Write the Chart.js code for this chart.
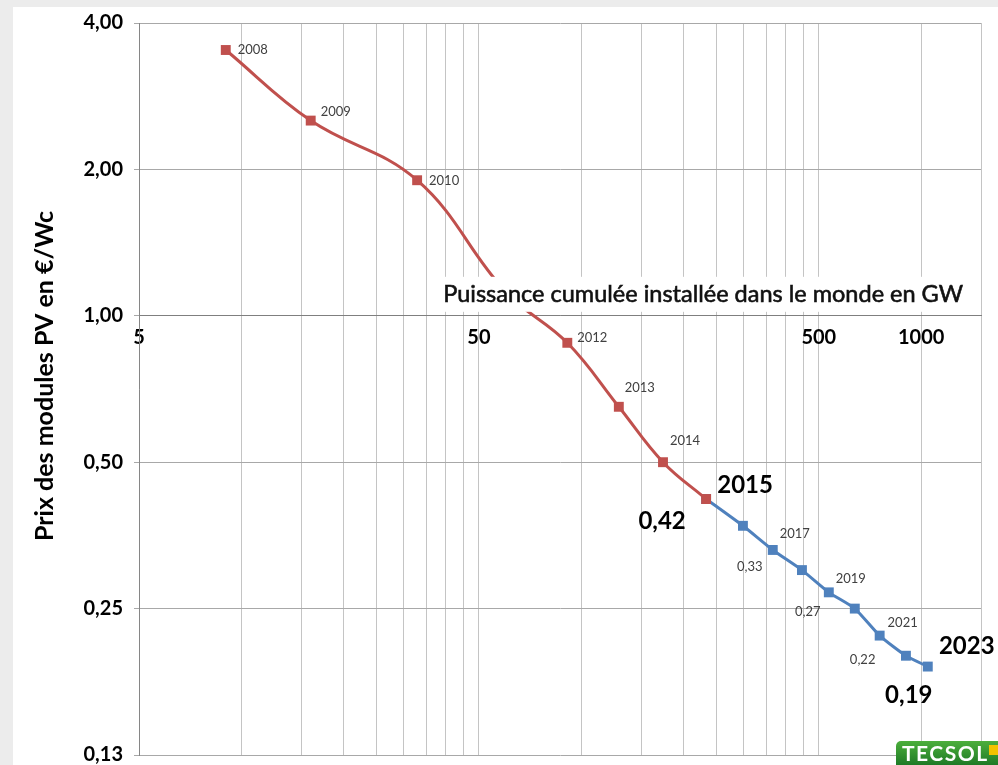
<!DOCTYPE html>
<html>
<head>
<meta charset="utf-8">
<script src="https://cdn.jsdelivr.net/npm/chart.js@4.4.1/dist/chart.umd.min.js"></script>
<style>
  html, body { margin: 0; padding: 0; background: #ececec; }
  canvas { display: block; }
</style>
</head>
<body>
<canvas id="chart" width="998" height="765"></canvas>
<script>
// values
const years = [2008, 2009, 2010, 2011, 2012, 2013, 2014, 2015, 2016, 2017, 2018, 2019, 2020, 2021, 2022, 2023];
const capacityGW = [9.0, 16.0, 32.9, 60, 91, 129, 174, 233, 299, 366, 446, 535, 638, 755, 902, 1046];
const priceEurWc = [3.52, 2.52, 1.90, 1.12, 0.88, 0.65, 0.50, 0.42, 0.37, 0.33, 0.30, 0.27, 0.25, 0.22, 0.20, 0.19];
const splitYear = 2015;

const xTicks = [5, 10, 15, 20, 25, 30, 35, 40, 45, 50, 100, 150, 200, 250, 300, 350, 400, 450, 500, 1000, 1500];
const xTickLabels = [5, 50, 500, 1000];
const yTicks = [0.125, 0.25, 0.5, 1, 2, 4];

const xTitle = 'Puissance cumulée installée dans le monde en GW';
const yTitle = 'Prix des modules PV en €/Wc';

// which points carry a label, and what it shows
const yearLabels = [2008, 2009, 2010, 2012, 2013, 2014, 2015, 2017, 2019, 2021, 2023];
const priceLabels = [2015, 2017, 2019, 2021, 2023];
const bigLabels = [2015, 2023];

const fmt = v => v.toFixed(2).replace('.', ',');
const pts = (from, to) => years
  .map((y, i) => ({ x: capacityGW[i], y: priceEurWc[i], year: y }))
  .filter(p => p.year >= from && p.year <= to);

const RED = '#c0504d', BLUE = '#4f81bd';
const FONT = 'Lato, "Open Sans", sans-serif';

// label offsets from the marker centre (px)
const yearOffset = {
  2008: [27, 0], 2009: [25, -9], 2010: [27, 1], 2012: [25, -5], 2013: [21, -19],
  2014: [22, -21], 2015: [39, -14], 2017: [22, -16], 2019: [22, -14], 2021: [23, -13], 2023: [39, -20]
};
const priceOffset = { 2015: [-44, 22], 2017: [-23, 17], 2019: [-21, 19], 2021: [-17, 24], 2023: [-19, 29] };

const decor = {
  id: 'decor',
  beforeDraw(chart) {
    const c = chart.ctx;
    c.save();
    c.fillStyle = '#ececec';
    c.fillRect(0, 0, chart.width, chart.height);
    c.fillStyle = '#ffffff';
    c.fillRect(13, 7, chart.width - 13, chart.height - 7);
    c.restore();
  },
  afterDatasetsDraw(chart) {
    const c = chart.ctx, xs = chart.scales.x, ys = chart.scales.y;
    c.save();
    // x axis title sitting on a white box above the 1,00 line
    c.font = '23.5px ' + FONT;
    const w = c.measureText(xTitle).width;
    const right = xs.getPixelForValue(1500) - 18;
    const base = ys.getPixelForValue(1);
    c.fillStyle = '#ffffff';
    c.fillRect(right - w - 10, base - 39, w + 18, 35);
    c.fillStyle = '#111111';
    c.strokeStyle = '#111111';
    c.lineWidth = 0.6;
    c.textAlign = 'right';
    c.textBaseline = 'middle';
    c.fillText(xTitle, right, base - 21);
    c.strokeText(xTitle, right, base - 21);

    // point labels
    const all = chart.getDatasetMeta(0).data.concat(chart.getDatasetMeta(1).data);
    const raw = chart.data.datasets[0].data.concat(chart.data.datasets[1].data);
    const seen = {};
    all.forEach((el, i) => {
      const yr = raw[i].year;
      if (seen[yr]) return;
      seen[yr] = true;
      const big = bigLabels.includes(yr);
      c.textAlign = 'center';
      c.textBaseline = 'middle';
      c.font = big ? 'bold 24px ' + FONT : '13px ' + FONT;
      c.fillStyle = big ? '#000000' : '#404040';
      if (yearLabels.includes(yr)) {
        const o = yearOffset[yr];
        c.fillText(String(yr), el.x + o[0], el.y + o[1]);
      }
      if (priceLabels.includes(yr)) {
        const o = priceOffset[yr];
        c.fillText(fmt(raw[i].y), el.x + o[0], el.y + o[1]);
      }
    });
    c.restore();
  },
  afterDraw(chart) {
    const c = chart.ctx;
    c.save();
    // y axis title
    c.translate(45, 376);
    c.rotate(-Math.PI / 2);
    c.font = 'bold 25px ' + FONT;
    c.fillStyle = '#000000';
    c.textAlign = 'center';
    c.textBaseline = 'middle';
    c.fillText(yTitle, 0, 0);
    c.restore();

    // logo
    c.save();
    const g = c.createLinearGradient(0, 741, 0, 765);
    g.addColorStop(0, '#4caf3c');
    g.addColorStop(1, '#1f7a26');
    c.fillStyle = g;
    c.beginPath();
    c.roundRect(896, 741, 110, 30, 5);
    c.fill();
    c.fillStyle = '#ffffff';
    c.font = 'bold 21px ' + FONT;
    c.letterSpacing = '1.5px';
    c.textAlign = 'left';
    c.textBaseline = 'middle';
    c.fillText('TECSOL', 902, 754);
    c.fillStyle = '#f2c200';
    c.fillRect(989, 745, 9, 10);
    c.restore();
  }
};

new Chart(document.getElementById('chart'), {
  type: 'line',
  data: {
    datasets: [
      {
        label: '2008-2015',
        data: pts(2008, splitYear),
        borderColor: RED,
        backgroundColor: RED,
        borderWidth: 3,
        tension: 0.4,
        pointStyle: 'rect',
        pointRadius: 7,
        pointBorderWidth: 0
      },
      {
        label: '2015-2023',
        data: pts(splitYear, 2023),
        borderColor: BLUE,
        backgroundColor: BLUE,
        borderWidth: 3,
        tension: 0.2,
        pointStyle: 'rect',
        pointRadius: 7,
        pointBorderWidth: 0
      }
    ]
  },
  options: {
    responsive: false,
    animation: false,
    devicePixelRatio: 1,
    layout: { padding: { left: 0, top: 23, right: 17, bottom: 10 } },
    plugins: { legend: { display: false }, tooltip: { enabled: false } },
    scales: {
      x: {
        type: 'logarithmic',
        position: { y: 1 },
        min: 5,
        max: 1500,
        afterBuildTicks: s => { s.ticks = xTicks.map(v => ({ value: v })); },
        afterFit: s => { s.height = 0; s.paddingTop = 0; s.paddingBottom = 0; },
        ticks: {
          autoSkip: false,
          maxRotation: 0,
          padding: 10,
          color: '#000000',
          font: { family: FONT, size: 20, weight: 'bold' },
          callback: v => xTickLabels.includes(v) ? String(v) : ''
        },
        grid: { color: '#c4c4c4', drawTicks: false },
        border: { color: '#7f7f7f', width: 1 }
      },
      y: {
        type: 'logarithmic',
        min: 0.125,
        max: 4,
        afterBuildTicks: s => { s.ticks = yTicks.map(v => ({ value: v })); },
        afterFit: s => { s.width = 139; s.paddingTop = 0; s.paddingBottom = 0; },
        ticks: {
          padding: 11,
          color: '#000000',
          font: { family: FONT, size: 20, weight: 'bold' },
          callback: v => fmt(v)
        },
        grid: { color: '#a8a8a8', tickLength: 5 },
        border: { color: '#868686', width: 1 }
      }
    }
  },
  plugins: [decor]
});
</script>
</body>
</html>
